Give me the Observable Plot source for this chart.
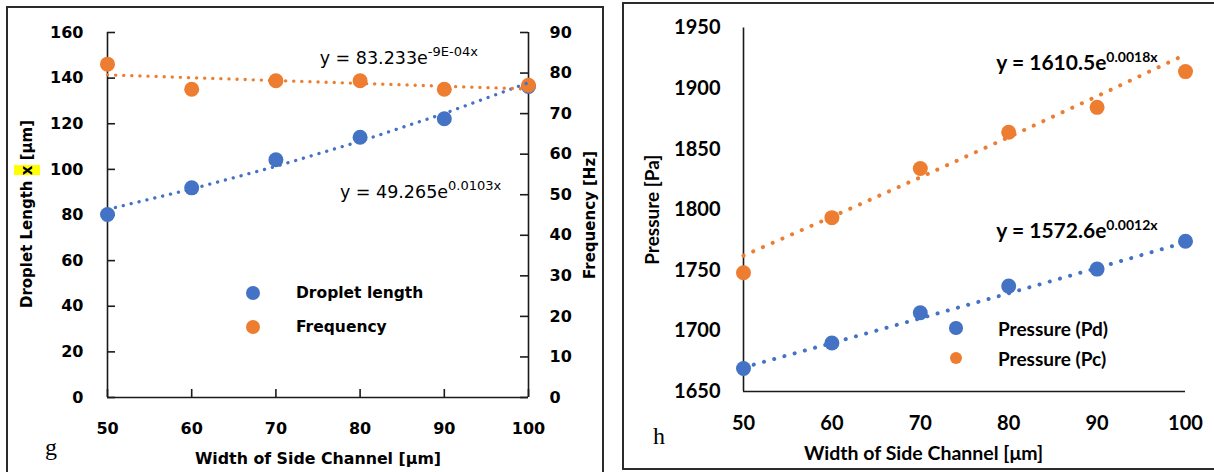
<!DOCTYPE html>
<html><head><meta charset="utf-8">
<script src="https://cdn.jsdelivr.net/npm/d3@7"></script>
<script src="https://cdn.jsdelivr.net/npm/@observablehq/plot@0.6"></script>
<style>
body{margin:0;background:#fff;}
#wrap{position:relative;width:1214px;height:472px;overflow:hidden;background:#fff;}
.box{position:absolute;border:2px solid #2b2b2b;box-sizing:border-box;pointer-events:none;}
.ov{position:absolute;white-space:nowrap;color:#000;}
.dotlg{position:absolute;border-radius:50%;}
</style></head><body><div id="wrap"></div>
<script>
// ---------- data ----------
const widths = [50, 60, 70, 80, 90, 100];                 // Width of Side Channel [µm]
const dropletLength = [80.2, 91.9, 104.2, 114.1, 122.2, 136.3]; // µm (left axis)
const frequency = [82.2, 76.0, 78.1, 78.1, 76.0, 77.0];       // Hz (right axis)
const pressurePd = [1669, 1690, 1715, 1737, 1751, 1774];      // Pa
const pressurePc = [1748, 1793.5, 1834, 1864, 1884.5, 1914];  // Pa
const xTicks = [50, 60, 70, 80, 90, 100];
const leftYTicks = [0, 20, 40, 60, 80, 100, 120, 140, 160];
const rightYTicks = [0, 10, 20, 30, 40, 50, 60, 70, 80, 90];
const pressureTicks = [1650, 1700, 1750, 1800, 1850, 1900, 1950];
// exponential trendline coefficients printed on the chart: y = a·e^(b·x)
const fitDroplet = [49.265, 0.0103];
const fitFrequency = [83.233, -0.0009];
const fitPd = [1572.6, 0.0012];
const fitPc = [1610.5, 0.0018];
const eqLabelsG = ["y = 83.233e^-9E-04x", "y = 49.265e^0.0103x"];
const eqLabelsH = ["y = 1610.5e^0.0018x", "y = 1572.6e^0.0012x"];
const seriesG = ["Droplet length", "Frequency"];
const seriesH = ["Pressure (Pd)", "Pressure (Pc)"];

const BLUE = "#4472C4", ORANGE = "#ED7D31", AX = "#1a1a1a";
const wrap = document.getElementById("wrap");
const sc = 160 / 90; // right-axis (Hz) to left-axis units

const rows = (vals, k = 1) => widths.map((w, i) => ({w, v: vals[i] * k}));
const fit = ([a, b], k = 1) => widths.map(w => ({w, v: a * Math.exp(b * w) * k}));

function supify(svg, supSize, supDy) {
  svg.querySelectorAll("text").forEach(t => {
    if (t.textContent.includes("^") && !t.querySelector("tspan")) {
      const [a, b] = t.textContent.split("^");
      t.textContent = a;
      const ts = document.createElementNS("http://www.w3.org/2000/svg", "tspan");
      ts.setAttribute("dy", supDy);
      ts.setAttribute("font-size", supSize);
      ts.textContent = b;
      t.appendChild(ts);
    }
  });
}
function place(el, left, top) {
  el.style.position = "absolute"; el.style.left = left + "px"; el.style.top = top + "px";
  wrap.appendChild(el);
}
function ov(html, left, top, css, tf = "translate(0,-50%)") {
  const d = document.createElement("div");
  d.className = "ov"; d.innerHTML = html;
  d.style.cssText += `left:${left}px;top:${top}px;${css};transform:${tf}`;
  wrap.appendChild(d); return d;
}
function lgDot(cx, cy, r, color) {
  const d = document.createElement("div");
  d.className = "dotlg";
  d.style.cssText += `left:${cx - r}px;top:${cy - r}px;width:${2*r}px;height:${2*r}px;background:${color}`;
  wrap.appendChild(d);
}

// ---------- panel g ----------
{
  const W = 607, H = 472, ML = 107, MR = 79, MT = 32, MB = 75;
  const fw = W - ML - MR, fh = H - MT - MB;
  const dotted = {strokeWidth: 3.3, strokeDasharray: "0.1 8", strokeLinecap: "round"};
  const svg = Plot.plot({
    width: W, height: H, marginLeft: ML, marginRight: MR, marginTop: MT, marginBottom: MB,
    x: {domain: [50, 100]}, y: {domain: [0, 160]},
    style: {fontFamily: "'DejaVu Sans'", fontSize: "16px", fontWeight: "bold", color: "#000", background: "transparent", overflow: "visible"},
    marks: [
      Plot.ruleX([50, 100], {stroke: AX, strokeWidth: 1.6}),
      Plot.ruleY([0], {stroke: AX, strokeWidth: 1.6}),
      Plot.tickY(leftYTicks, {y: d => d, insetRight: fw - 8, stroke: AX, strokeWidth: 1.6}),
      Plot.tickY(rightYTicks.map(v => v * sc), {y: d => d, insetLeft: fw - 8, stroke: AX, strokeWidth: 1.6}),
      Plot.tickX(xTicks, {x: d => d, insetTop: fh - 8, stroke: AX, strokeWidth: 1.6}),
      Plot.axisY(leftYTicks, {anchor: "left", tickSize: 0, tickPadding: 24, label: null}),
      Plot.axisY(rightYTicks.map(v => v * sc), {anchor: "right", tickSize: 0, tickPadding: 21, tickFormat: d => Math.round(d / sc), label: null}),
      Plot.axisX(xTicks, {anchor: "bottom", tickSize: 0, tickPadding: 25, label: null}),
      Plot.dot(rows(dropletLength), {x: "w", y: "v", r: 7.5, fill: BLUE}),
      Plot.dot(rows(frequency, sc), {x: "w", y: "v", r: 7.5, fill: ORANGE}),
      Plot.line(fit(fitDroplet), {x: "w", y: "v", stroke: BLUE, ...dotted}),
      Plot.line(fit(fitFrequency, sc), {x: "w", y: "v", stroke: ORANGE, ...dotted}),
      Plot.text([eqLabelsG[0]], {x: 75.2, y: 146, text: d => d, textAnchor: "start", lineAnchor: "bottom", fontWeight: "normal", fontSize: 17.5}),
      Plot.text([eqLabelsG[1]], {x: 77.6, y: 87.5, text: d => d, textAnchor: "start", lineAnchor: "bottom", fontWeight: "normal", fontSize: 17.5}),
      Plot.text(["Width of Side Channel [μm]"], {frameAnchor: "bottom", dy: 61, text: d => d, textAnchor: "middle", lineAnchor: "middle", fontSize: 15.8}),
      Plot.text(["Frequency [Hz]"], {frameAnchor: "right", dx: 62, rotate: -90, text: d => d, textAnchor: "middle", lineAnchor: "middle", fontSize: 15})
    ]
  });
  supify(svg, 13, -8);
  place(svg, 0, 0);
  // y title with highlighted x
  ov(`Droplet Length <span style="background:#ffff00;padding:4px 0">x</span> [μm]`, 27, 214,
     "font:bold 15px 'DejaVu Sans'", "translate(-50%,-50%) rotate(-90deg)");
  // legend
  lgDot(253, 293, 7, BLUE); lgDot(253, 327, 7, ORANGE);
  ov(seriesG[0], 296, 293, "font:bold 15.5px 'DejaVu Sans'");
  ov(seriesG[1], 296, 327, "font:bold 15.5px 'DejaVu Sans'");
  ov("g", 45, 447, "font:24px 'Liberation Serif'");
  const b = document.createElement("div"); b.className = "box";
  b.style.cssText += "left:6px;top:6px;width:598px;height:480px"; wrap.appendChild(b);
}

// ---------- panel h ----------
{
  const L = 614, W = 600, H = 472, ML = 129, MR = 29, MT = 27.5, MB = 81;
  const dotted = {strokeWidth: 4, strokeDasharray: "0.1 10.5", strokeLinecap: "round"};
  const svg = Plot.plot({
    width: W, height: H, marginLeft: ML, marginRight: MR, marginTop: MT, marginBottom: MB,
    x: {domain: [50, 100]}, y: {domain: [1650, 1950]},
    style: {fontFamily: "Lato", fontSize: "20px", fontWeight: "bold", color: "#000", background: "transparent", overflow: "visible"},
    marks: [
      Plot.ruleX([50], {stroke: AX, strokeWidth: 1.6}),
      Plot.ruleY([1650], {stroke: AX, strokeWidth: 1.6}),
      Plot.axisY(pressureTicks, {anchor: "left", tickSize: 0, tickPadding: 23, tickFormat: d3.format("d"), label: null}),
      Plot.axisX(xTicks, {anchor: "bottom", tickSize: 0, tickPadding: 24, label: null}),
      Plot.dot(rows(pressurePd), {x: "w", y: "v", r: 7.5, fill: BLUE}),
      Plot.dot(rows(pressurePc), {x: "w", y: "v", r: 7.5, fill: ORANGE}),
      Plot.line(fit(fitPd), {x: "w", y: "v", stroke: BLUE, ...dotted}),
      Plot.line(fit(fitPc), {x: "w", y: "v", stroke: ORANGE, ...dotted}),
      Plot.text([eqLabelsH[0]], {x: 78.6, y: 1915.3, text: d => d, textAnchor: "start", lineAnchor: "bottom", fontSize: 21}),
      Plot.text([eqLabelsH[1]], {x: 78.6, y: 1776.4, text: d => d, textAnchor: "start", lineAnchor: "bottom", fontSize: 21}),
      Plot.text(["Width of Side Channel [μm]"], {frameAnchor: "bottom", dy: 62, dx: -41, text: d => d, textAnchor: "middle", lineAnchor: "middle", fontSize: 19.5}),
      Plot.text(["Pressure [Pa]"], {frameAnchor: "left", dx: -91, rotate: -90, text: d => d, textAnchor: "middle", lineAnchor: "middle", fontSize: 19})
    ]
  });
  supify(svg, 14, -8);
  place(svg, L, 0);
  lgDot(956, 328, 6.7, BLUE); lgDot(956, 358, 6.2, ORANGE);
  ov(seriesH[0], 998, 328, "font:bold 19px Lato");
  ov(seriesH[1], 998, 358, "font:bold 19px Lato");
  ov("h", 653, 436, "font:24px 'Liberation Serif'");
  const b = document.createElement("div"); b.className = "box";
  b.style.cssText += "left:622px;top:2px;width:620px;height:468px"; wrap.appendChild(b);
}
</script></body></html>
